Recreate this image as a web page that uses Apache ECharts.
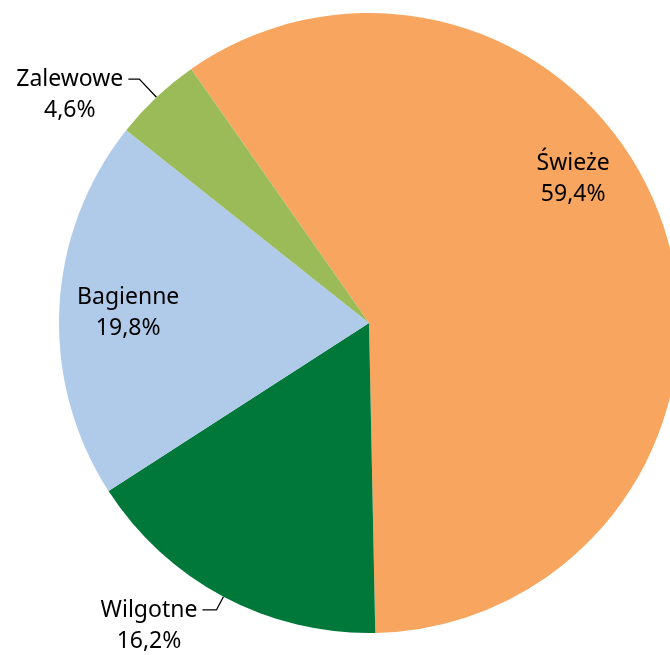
<!DOCTYPE html>
<html>

<head>
  <meta charset="utf-8">
  <title>Siedliska</title>
  <style>
    body {
      margin: 0;
      background: #fff;
    }

    #pie {
      width: 670px;
      height: 655px;
    }
  </style>
  <script src="https://cdn.jsdelivr.net/npm/echarts@6/dist/echarts.min.js"></script>
</head>

<body>
  <div id="pie"></div>

  <script>
    // dane z wykresu (procenty)
    var categories = ['Świeże', 'Wilgotne', 'Bagienne', 'Zalewowe'];
    var shares = [59.4, 16.2, 19.8, 4.6];
    var colors = ['#F7A55F', '#00783A', '#B0CAE9', '#9BBB59'];
    var insideLabels = ['Świeże', 'Bagienne'];

    var chart = echarts.init(document.getElementById('pie'));

    var data = categories.map(function (name, i) {
      var item = {
        name: name,
        value: shares[i],
        itemStyle: { color: colors[i] }
      };
      if (insideLabels.indexOf(name) >= 0) {
        item.label = { position: 'inside' };
        item.labelLine = { show: false };
      }
      if (name === 'Wilgotne') {
        item.labelLine = { length: 15, length2: 14 };
      }
      return item;
    });

    var option = {
      animation: false,
      series: [{
        type: 'pie',
        center: [369, 323],
        radius: 310,
        startAngle: 125,
        clockwise: true,
        avoidLabelOverlap: false,
        data: data,
        label: {
          position: 'outside',
          fontFamily: 'Noto Sans',
          fontSize: 23,
          lineHeight: 31,
          color: '#000',
          padding: [31, 0, 0, 0],
          distanceToLabelLine: 5,
          formatter: function (p) {
            return '{t|' + p.name + '}\n{t|' + p.value.toFixed(1).replace('.', ',') + '%}';
          },
          rich: {
            t: {
              fontFamily: 'Noto Sans',
              fontSize: 23,
              lineHeight: 31,
              color: '#000',
              align: 'center'
            }
          }
        },
        labelLine: {
          show: true,
          length: 25,
          length2: 11,
          lineStyle: { color: '#000', width: 1.3 }
        },
        // przesunięcie etykiet wewnętrznych jak w oryginale
        labelLayout: function (p) {
          if (p.dataIndex === 0) return { dx: 54, dy: -111 };
          if (p.dataIndex === 2) return { dx: -83, dy: -18 };
          return {};
        }
      }]
    };

    chart.setOption(option);
  </script>
</body>

</html>
